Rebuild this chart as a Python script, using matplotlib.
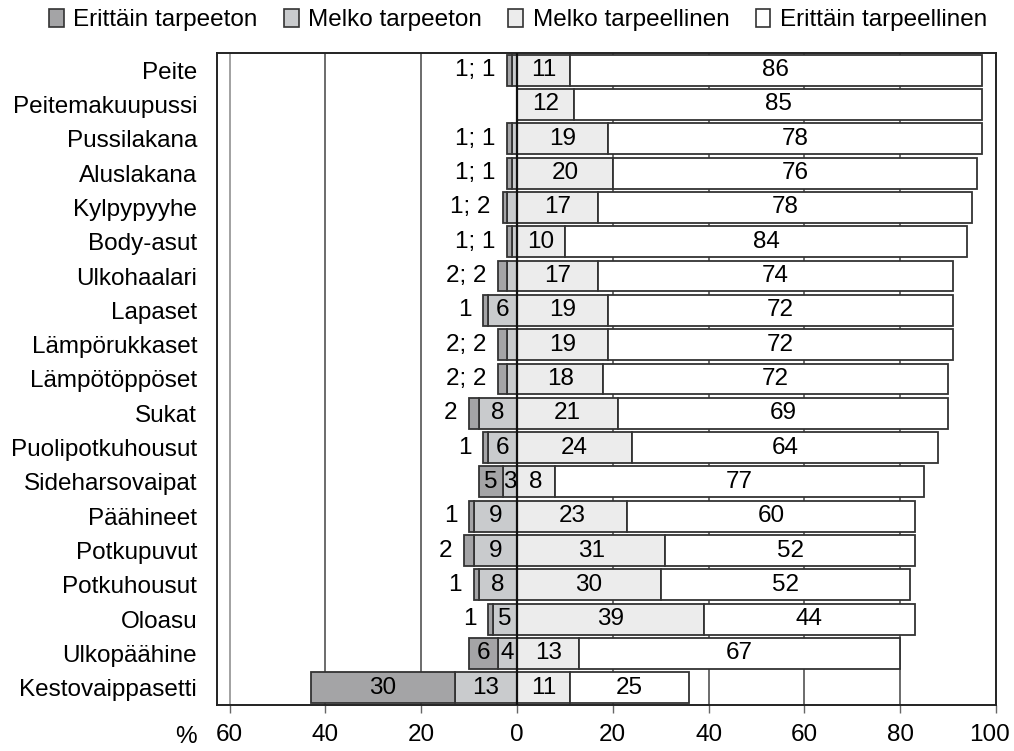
import matplotlib
matplotlib.use("Agg")
import matplotlib.pyplot as plt
import matplotlib.transforms as mtransforms
from matplotlib.patches import Patch

plt.rcParams['font.family'] = ['Liberation Sans', 'DejaVu Sans']

categories = ["Peite", "Peitemakuupussi", "Pussilakana", "Aluslakana", "Kylpypyyhe",
              "Body-asut", "Ulkohaalari", "Lapaset", "Lämpörukkaset", "Lämpötöppöset",
              "Sukat", "Puolipotkuhousut", "Sideharsovaipat", "Päähineet", "Potkupuvut",
              "Potkuhousut", "Oloasu", "Ulkopäähine", "Kestovaippasetti"]
erittain_tarpeeton = [1, 0, 1, 1, 1, 1, 2, 1, 2, 2, 2, 1, 5, 1, 2, 1, 1, 6, 30]
melko_tarpeeton = [1, 0, 1, 1, 2, 1, 2, 6, 2, 2, 8, 6, 3, 9, 9, 8, 5, 4, 13]
melko_tarpeellinen = [11, 12, 19, 20, 17, 10, 17, 19, 19, 18, 21, 24, 8, 23, 31, 30, 39, 13, 11]
erittain_tarpeellinen = [86, 85, 78, 76, 78, 84, 74, 72, 72, 72, 69, 64, 77, 60, 52, 52, 44, 67, 25]
series_names = ["Erittäin tarpeeton", "Melko tarpeeton", "Melko tarpeellinen", "Erittäin tarpeellinen"]
xticks = [-60, -40, -20, 0, 20, 40, 60, 80, 100]
xticklabels = ["60", "40", "20", "0", "20", "40", "60", "80", "100"]

colors = ["#a4a4a6", "#c9cbcd", "#ececec", "#ffffff"]
edge = "#333333"
fs = 17.5

fig = plt.figure(figsize=(10.14, 7.51), dpi=100)
ax = fig.add_axes([0.2137, 0.0613, 0.9822 - 0.2137, 0.9294 - 0.0613])

n = len(categories)
y = list(range(n))
h = 0.9
for i in range(n):
    et, mt = erittain_tarpeeton[i], melko_tarpeeton[i]
    mtl, etl = melko_tarpeellinen[i], erittain_tarpeellinen[i]
    kw = dict(height=h, edgecolor=edge, linewidth=1.3, zorder=3)
    if mt > 0:
        ax.barh(i, -mt, left=0, color=colors[1], **kw)
    if et > 0:
        ax.barh(i, -et, left=-mt, color=colors[0], **kw)
    ax.barh(i, mtl, left=0, color=colors[2], **kw)
    ax.barh(i, etl, left=mtl, color=colors[3], **kw)
    # positive labels
    ax.text(mtl / 2, i, str(mtl), ha='center', va='center', fontsize=fs, zorder=5)
    ax.text(mtl + etl / 2, i, str(etl), ha='center', va='center', fontsize=fs, zorder=5)
    # negative labels
    outside = []
    if mt >= 3:
        ax.text(-mt / 2, i, str(mt), ha='center', va='center', fontsize=fs, zorder=5)
    if et >= 5:
        ax.text(-mt - et / 2, i, str(et), ha='center', va='center', fontsize=fs, zorder=5)
    if et > 0 and et < 5:
        outside.append(str(et))
    if mt > 0 and mt < 3:
        outside.append(str(mt))
    if outside:
        ax.annotate("; ".join(outside), xy=(-(et + mt), i), xytext=(-8.5, 0),
                    textcoords='offset points', ha='right', va='center', fontsize=fs, zorder=5)

for xv in [-60, -40, -20, 20, 40, 60, 80]:
    ax.axvline(xv, color="#444444" if xv != -60 else "#888888", linewidth=1.1, zorder=1)
ax.axvline(0, color="#111111", linewidth=1.6, zorder=4)

ax.set_xlim(-62.7, 100)
ax.set_ylim(n - 0.5, -0.5)
ax.set_yticks(y)
ax.set_yticklabels(categories, fontsize=fs)
ax.tick_params(axis='y', length=0, pad=14)
ax.set_xticks(xticks)
ax.set_xticklabels(xticklabels, fontsize=fs)
ax.tick_params(axis='x', length=6, width=1, color="#666666", pad=7.5, direction='out')
last = ax.get_xticklabels()[-1]
last.set_transform(last.get_transform() + mtransforms.ScaledTranslation(-6 / 100, 0, fig.dpi_scale_trans))
for s in ax.spines.values():
    s.set_color("#222222")
    s.set_linewidth(1.4)

fig.text(0.1834, 0.0186, "%", fontsize=fs, ha='center', va='center')

handles = [Patch(facecolor=c, edgecolor=edge, linewidth=1.2) for c in colors]
fig.legend(handles, series_names, loc='center', bbox_to_anchor=(0.511, 0.973), ncol=4,
           frameon=False, fontsize=fs, handlelength=0.6, handleheight=0.75,
           handletextpad=0.4, columnspacing=1.08)

fig.savefig("out.png", dpi=100)
